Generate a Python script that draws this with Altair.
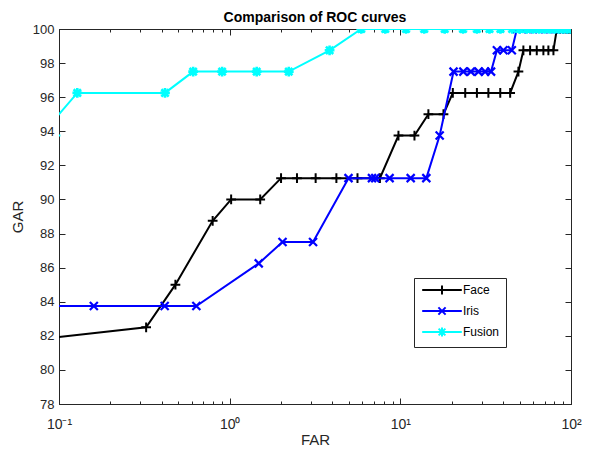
import json
import altair as alt
import pandas as pd

# ---- data ----
series_names = ["Face", "Iris", "Fusion"]
series_colors = ["#000000", "#0000ff", "#00ffff"]

face_far = [0.024, 0.324, 0.481, 0.795, 1.02, 1.51, 2.00, 2.48, 3.19, 4.22, 5.61, 7.59,
            9.75, 12.1, 14.6, 17.9, 20.3, 24.0, 28.1, 32.8, 38.5, 44.0, 49.2, 52.6, 57.6,
            63.0, 68.9, 73.7, 78.9, 82.6, 86, 90, 94, 97, 100]
face_gar = [81.25, 82.5, 85, 88.75, 90, 90, 91.25, 91.25, 91.25, 91.25, 91.25, 91.25,
            93.75, 93.75, 95, 95, 96.25, 96.25, 96.25, 96.25, 96.25, 96.25, 97.5, 98.75, 98.75,
            98.75, 98.75, 98.75, 98.75, 100, 100, 100, 100, 100, 100]

iris_far = [0.05, 0.160, 0.416, 0.638, 1.48, 2.04, 3.08, 4.97, 6.82, 7.13, 8.65, 11.5,
            14.2, 17.0, 20.5, 23.4, 25.9, 28.7, 31.4, 34.0, 36.8, 40.2, 45.0, 48.2,
            52, 56, 60, 65, 70, 75, 80, 85, 90, 95, 100]
iris_gar = [83.75, 83.75, 83.75, 83.75, 86.25, 87.5, 87.5, 91.25, 91.25, 91.25, 91.25, 91.25,
            91.25, 93.75, 97.5, 97.5, 97.5, 97.5, 97.5, 97.5, 98.75, 98.75, 98.75, 100,
            100, 100, 100, 100, 100, 100, 100, 100, 100, 100, 100]

fusion_far = [0.078, 0.128, 0.418, 0.611, 0.903, 1.44, 2.22, 3.85, 5.90, 8.16, 10.8, 13.8,
              18.2, 23.3, 28.1, 33.3, 38.6, 45.2, 50, 55, 60, 65, 70, 75, 80, 85, 90, 95, 100]
fusion_gar = [93.75, 96.25, 96.25, 97.5, 97.5, 97.5, 97.5, 98.75, 100, 100, 100, 100,
              100, 100, 100, 100, 100, 100, 100, 100, 100, 100, 100, 100, 100, 100, 100, 100, 100]

x_tick_values = [0.1, 0.2, 0.3, 0.4, 0.5, 0.6, 0.7, 0.8, 0.9,
                 1, 2, 3, 4, 5, 6, 7, 8, 9,
                 10, 20, 30, 40, 50, 60, 70, 80, 90, 100]
x_major_values = [0.1, 1, 10, 100]
x_major_labels = ["10\u207b\u00b9", "10\u2070", "10\u00b9", "10\u00b2"]
y_tick_values = [78, 80, 82, 84, 86, 88, 90, 92, 94, 96, 98, 100]

# ---- styling ----
marker_paths = ["M-1,0L1,0M0,-1L0,1",
                "M-0.8,-0.8L0.8,0.8M-0.8,0.8L0.8,-0.8",
                "M-1,0L1,0M0,-1L0,1M-0.75,-0.75L0.75,0.75M-0.75,0.75L0.75,-0.75"]
legend_paths = ["M-4.4,0L4.4,0" + marker_paths[0],
                "M-4.4,0L4.4,0" + marker_paths[1],
                "M-4.4,0L4.4,0" + marker_paths[2]]
marker_sizes = [95, 100, 95]
marker_strokes = [2, 2.2, 2.6]

W, H = 512, 375
FONT = "Liberation Sans"
AX = "#262626"

rows = []
for name, fa, ga in [("Face", face_far, face_gar), ("Iris", iris_far, iris_gar),
                     ("Fusion", fusion_far, fusion_gar)]:
    for f, g in zip(fa, ga):
        rows.append({"series": name, "FAR": f, "GAR": g})
df = pd.DataFrame(rows)

maj_js = json.dumps(x_major_values)
lab_js = json.dumps(x_major_labels, ensure_ascii=False)
label_expr = (f"indexof({maj_js}, datum.value) >= 0 ? "
              f"{lab_js}[indexof({maj_js}, datum.value)] : ''")
major_test = f"indexof({maj_js}, datum.value) >= 0"

xscale = alt.Scale(type="log", domain=[0.1, 100], nice=False)
yscale = alt.Scale(domain=[78, 100], nice=False, zero=False)

xaxis = alt.Axis(values=x_tick_values, labelExpr=label_expr, ticks=False,
                 grid=True, gridColor=AX, gridOpacity=1, gridWidth=1,
                 gridDash={"condition": {"test": major_test, "value": [6, H - 12]},
                           "value": [3, H - 6]},
                 domainColor=AX, domainWidth=1,
                 labelFont=FONT, labelFontSize=14, labelColor=AX, labelPadding=13,
                 labelFlush=False, labelOverlap=False,
                 title="FAR", titleFont=FONT, titleFontSize=15, titleFontWeight="normal",
                 titleColor=AX, titlePadding=1)
yaxis = alt.Axis(values=y_tick_values, ticks=False,
                 grid=True, gridColor=AX, gridOpacity=1, gridWidth=1,
                 gridDash=[6, W - 12],
                 domainColor=AX, domainWidth=1,
                 labelFont=FONT, labelFontSize=13, labelColor=AX, labelPadding=5,
                 labelOverlap=False,
                 title="GAR", titleFont=FONT, titleFontSize=15, titleFontWeight="normal",
                 titleColor=AX, titlePadding=7)

X = alt.X("FAR:Q", scale=xscale, axis=xaxis)
Y = alt.Y("GAR:Q", scale=yscale, axis=yaxis)

base = alt.Chart(df)
layers = []
for name, col, path, sz, sw in zip(series_names, series_colors, marker_paths,
                                   marker_sizes, marker_strokes):
    sub = base.transform_filter(alt.datum.series == name)
    layers.append(sub.mark_line(color=col, strokeWidth=2, clip=True).encode(x=X, y=Y))
    layers.append(sub.mark_point(color=col, shape=path, filled=False, size=sz,
                                 strokeWidth=sw, opacity=1, clip=True).encode(x=X, y=Y))

legend = alt.Legend(title=None, orient="none", legendX=355, legendY=249,
                    direction="vertical", fillColor="white", strokeColor=AX,
                    padding=6, symbolSize=81, symbolStrokeWidth=2,
                    symbolOffset=16, labelOffset=15, rowPadding=4,
                    labelFont=FONT, labelFontSize=12, labelColor="black")
leg_layer = base.transform_filter(alt.datum.FAR < 0.1).mark_point(
    filled=False, size=81, strokeWidth=2, opacity=1, clip=True).encode(
    x=X, y=Y,
    color=alt.Color("series:N", scale=alt.Scale(domain=series_names, range=series_colors),
                    legend=legend),
    shape=alt.Shape("series:N", scale=alt.Scale(domain=series_names, range=legend_paths),
                    legend=legend))
layers.append(leg_layer)

chart = alt.layer(*layers).properties(
    width=W, height=H,
    title=alt.Title("Comparison of ROC curves", font=FONT, fontSize=14, fontWeight="bold",
                    color="black", anchor="middle", offset=6, dy=8),
    autosize=alt.AutoSizeParams(type="none"),
    padding={"left": 51, "top": 21, "right": 13, "bottom": 45},
).configure_view(stroke=AX, strokeWidth=1)

chart.save("out.html", embed_options={"renderer": "svg", "actions": False})
